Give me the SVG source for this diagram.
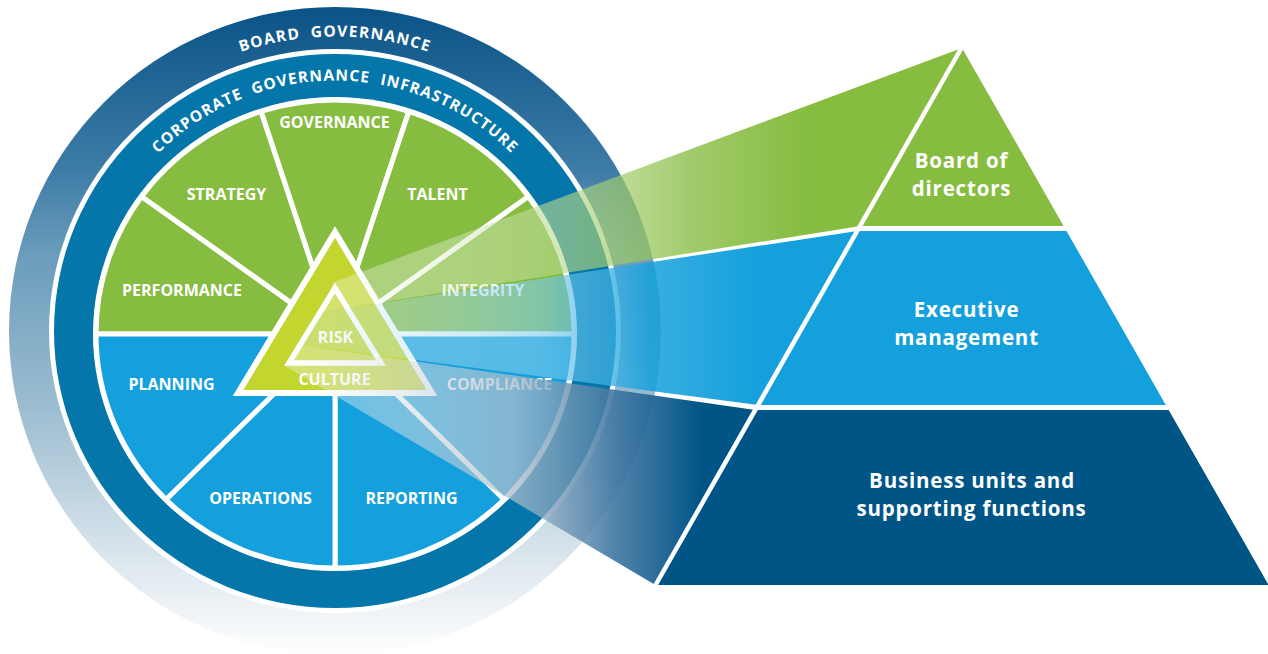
<svg xmlns="http://www.w3.org/2000/svg" width="1268" height="654" viewBox="0 0 1268 654">
  <style>
    .seg { stroke: #ffffff; stroke-width: 5; stroke-linejoin: round; }
    .green { fill: #86bc40; }
    .blue { fill: #14a0dc; }
    .navy { fill: #005587; }
    .lbl { font-family: "Open Sans", "Liberation Sans", sans-serif; font-weight: 700; font-size: 16px; fill: #ffffff; text-anchor: middle; }
    .ring { font-family: "Open Sans", "Liberation Sans", sans-serif; font-weight: 700; font-size: 15.5px; fill: #ffffff; text-anchor: middle; }
    .tier { font-family: "Open Sans", "Liberation Sans", sans-serif; font-weight: 700; font-size: 20.5px; letter-spacing: 0.8px; fill: #ffffff; text-anchor: middle; }
  </style>
  <defs>
    <linearGradient id="gOuter" gradientUnits="userSpaceOnUse" x1="0" y1="7" x2="0" y2="655">
      <stop offset="0" stop-color="#0a5387"/>
      <stop offset="0.25" stop-color="#3d7ca6"/>
      <stop offset="0.38" stop-color="#6a9cbb"/>
      <stop offset="0.62" stop-color="#9cbdd1"/>
      <stop offset="0.85" stop-color="#dbe6ed"/>
      <stop offset="1" stop-color="#ffffff"/>
    </linearGradient>
    <linearGradient id="gGreen" gradientUnits="userSpaceOnUse" x1="334" y1="0" x2="860" y2="0">
      <stop offset="0" stop-color="#ffffff" stop-opacity="0.3"/>
      <stop offset="0.4" stop-color="#bcdb94" stop-opacity="0.6"/>
      <stop offset="0.68" stop-color="#86bc40" stop-opacity="0.78"/>
      <stop offset="0.9" stop-color="#86bc40" stop-opacity="1"/>
    </linearGradient>
    <linearGradient id="gBlue" gradientUnits="userSpaceOnUse" x1="321" y1="0" x2="760" y2="0">
      <stop offset="0" stop-color="#e0f2fa" stop-opacity="0.3"/>
      <stop offset="0.5" stop-color="#7fcbed" stop-opacity="0.6"/>
      <stop offset="0.75" stop-color="#14a0dc" stop-opacity="0.85"/>
      <stop offset="1" stop-color="#14a0dc" stop-opacity="1"/>
    </linearGradient>
    <linearGradient id="gDark" gradientUnits="userSpaceOnUse" x1="285" y1="0" x2="700" y2="0">
      <stop offset="0" stop-color="#ffffff" stop-opacity="0.3"/>
      <stop offset="0.55" stop-color="#a8bccb" stop-opacity="0.75"/>
      <stop offset="0.8" stop-color="#3c74a0" stop-opacity="0.9"/>
      <stop offset="1" stop-color="#005587" stop-opacity="1"/>
    </linearGradient>
    <path id="arcBoard" d="M 40.5 331 A 294.5 294.5 0 0 1 629.5 331"/>
    <path id="arcCorp" d="M 84.5 331 A 250.5 250.5 0 0 1 585.5 331"/>
  </defs>

  <g id="board-governance">
    <ellipse cx="335" cy="331" rx="326" ry="324" fill="url(#gOuter)"/>
    <ellipse cx="335" cy="331" rx="286" ry="282" fill="#ffffff"/>
    <text class="ring" letter-spacing="1.3" word-spacing="5"><textPath href="#arcBoard" startOffset="50%">BOARD GOVERNANCE</textPath></text>
  </g>

  <g id="corporate-governance-infrastructure">
    <ellipse cx="335" cy="331" rx="281" ry="277" fill="#0576a9"/>
    <ellipse cx="335" cy="334" rx="242" ry="237" fill="#ffffff"/>
    <text class="ring" letter-spacing="1.1" word-spacing="5"><textPath href="#arcCorp" startOffset="50%">CORPORATE GOVERNANCE INFRASTRUCTURE</textPath></text>
  </g>

  <g id="performance">
    <path class="seg green" d="M335,334 L96,334 A239,234 0 0 1 141.6,196.5 Z"/>
    <text class="lbl" x="182" y="296">PERFORMANCE</text>
  </g>
  <g id="strategy">
    <path class="seg green" d="M335,334 L141.6,196.5 A239,234 0 0 1 261.1,111.4 Z"/>
    <text class="lbl" x="226.5" y="200">STRATEGY</text>
  </g>
  <g id="governance">
    <path class="seg green" d="M335,334 L261.1,111.4 A239,234 0 0 1 408.9,111.4 Z"/>
    <text class="lbl" x="334.5" y="128">GOVERNANCE</text>
  </g>
  <g id="talent">
    <path class="seg green" d="M335,334 L408.9,111.4 A239,234 0 0 1 528.4,196.5 Z"/>
    <text class="lbl" x="437.5" y="200">TALENT</text>
  </g>
  <g id="integrity">
    <path class="seg green" d="M335,334 L528.4,196.5 A239,234 0 0 1 574,334 Z"/>
    <text class="lbl" x="483" y="296">INTEGRITY</text>
  </g>
  <g id="compliance">
    <path class="seg blue" d="M335,334 L574,334 A239,234 0 0 1 504,499.5 Z"/>
    <text class="lbl" x="499.5" y="390">COMPLIANCE</text>
  </g>
  <g id="reporting">
    <path class="seg blue" d="M335,334 L504,499.5 A239,234 0 0 1 335,568 Z"/>
    <text class="lbl" x="411.5" y="504">REPORTING</text>
  </g>
  <g id="operations">
    <path class="seg blue" d="M335,334 L335,568 A239,234 0 0 1 166,499.5 Z"/>
    <text class="lbl" x="260.5" y="504">OPERATIONS</text>
  </g>
  <g id="planning">
    <path class="seg blue" d="M335,334 L166,499.5 A239,234 0 0 1 96,334 Z"/>
    <text class="lbl" x="171.5" y="390">PLANNING</text>
  </g>

  <g id="culture">
    <polygon points="335,232 238,393 432,393" fill="#c3d52f" stroke="#ffffff" stroke-width="6" stroke-linejoin="miter"/>
    <text class="lbl" x="334.5" y="385">CULTURE</text>
  </g>
  <g id="risk">
    <polygon points="335,288 289,363 381,363" fill="#c3d52f" stroke="#ffffff" stroke-width="5.5" stroke-linejoin="miter"/>
    <text class="lbl" x="335.5" y="343">RISK</text>
  </g>

  <g id="connectors">
    <polygon points="334,282 962,48 860.4,226 321,312" fill="url(#gGreen)"/>
    <polygon points="321,312 857.5,231 758.2,405 301,345" fill="url(#gBlue)"/>
    <polygon points="301,345 755.3,410 655.4,585 285,366" fill="url(#gDark)"/>
  </g>

  <g id="board-of-directors">
    <polygon class="green" points="962,48 1063.6,226 860.4,226"/>
    <text class="tier" x="961.5" y="168">Board of<tspan x="961.5" dy="28">directors</tspan></text>
  </g>
  <g id="executive-management">
    <polygon class="blue" points="857.5,231 1066.5,231 1165.8,405 758.2,405"/>
    <text class="tier" x="966.5" y="317">Executive<tspan x="966.5" dy="28">management</tspan></text>
  </g>
  <g id="business-units">
    <polygon class="navy" points="755.3,410 1168.7,410 1268.6,585 655.4,585"/>
    <text class="tier" x="972" y="488">Business units and<tspan x="971.5" dy="28">supporting functions</tspan></text>
  </g>
  <line x1="962" y1="47" x2="655" y2="586" stroke="#ffffff" stroke-width="4.5"/>
</svg>
